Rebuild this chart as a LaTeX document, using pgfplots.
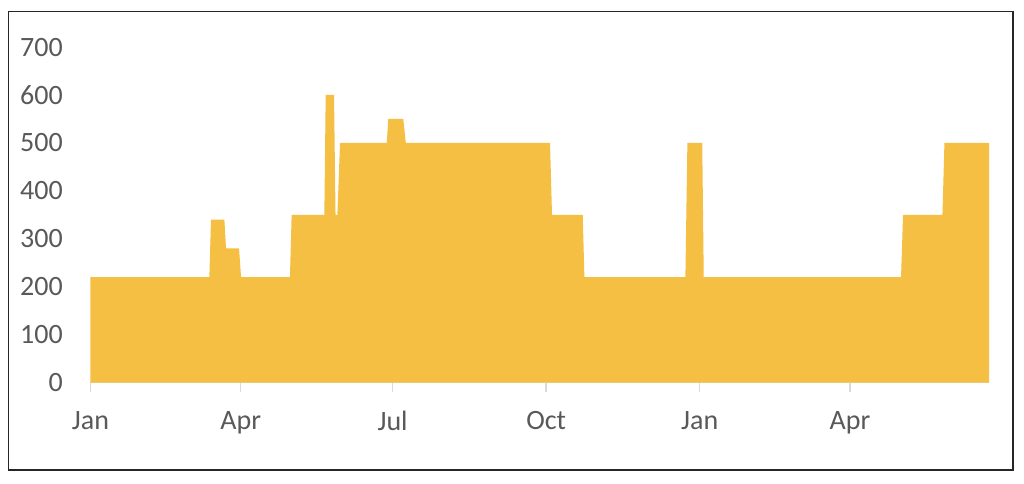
\documentclass[border=0pt]{standalone}
\usepackage{pgfplots}
\pgfplotsset{compat=1.18}
\usepackage{fontspec}
\setmainfont{Carlito}
\definecolor{gold}{HTML}{F4BF42}
\definecolor{axisgray}{HTML}{D9D9D9}
\definecolor{labelgray}{HTML}{595959}
\definecolor{framegray}{HTML}{262626}
\pgfplotstableread{
d v
0 220
71.2 220
72.2 340
80.2 340
81.2 280
89.0 280
90.2 220
119.5 220
120.5 350
140.1 350
140.9 600
145.9 600
146.8 350
147.9 350
149.5 500
177.5 500
178.4 550
187.4 550
188.9 500
275.3 500
276.5 350
294.9 350
295.9 220
356.4 220
357.6 500
366.5 500
367.4 220
485.6 220
486.8 350
510.4 350
511.6 500
538.3 500
}\datatable
\begin{document}
\begin{tikzpicture}
\path (-45.25pt,-50.15pt) rectangle (466.75pt,191.35pt);
\draw[framegray, line width=0.75pt] (-41pt,-43.65pt) rectangle (461.25pt,185.6pt);
\begin{axis}[
  at={(0,0)}, anchor=south west,
  scale only axis,
  width=449.25pt, height=167.85pt,
  xmin=0, xmax=538.3, ymin=0, ymax=700,
  axis x line*=bottom, axis y line*=left,
  y axis line style={draw=none},
  x axis line style={draw=axisgray, line width=0.75pt, -},
  xtick={0,90,181,273,365,455},
  xticklabels={Jan,Apr,Jul,Oct,Jan,Apr},
  ytick={0,100,...,700},
  tick align=outside,
  major tick length=4.85pt,
  xtick style={draw=axisgray, line width=0.75pt},
  ytick style={draw=none},
  tick label style={font=\fontsize{14}{16}\selectfont, text=labelgray},
  /pgf/number format/assume math mode=true,
  yticklabel style={xshift=-5.5pt},
  xticklabel style={anchor=north, yshift=-5.8pt},
  clip=false,
]
\addplot[fill=gold, draw=none] table[x=d, y=v] {\datatable} \closedcycle;
\end{axis}
\end{tikzpicture}
\end{document}
